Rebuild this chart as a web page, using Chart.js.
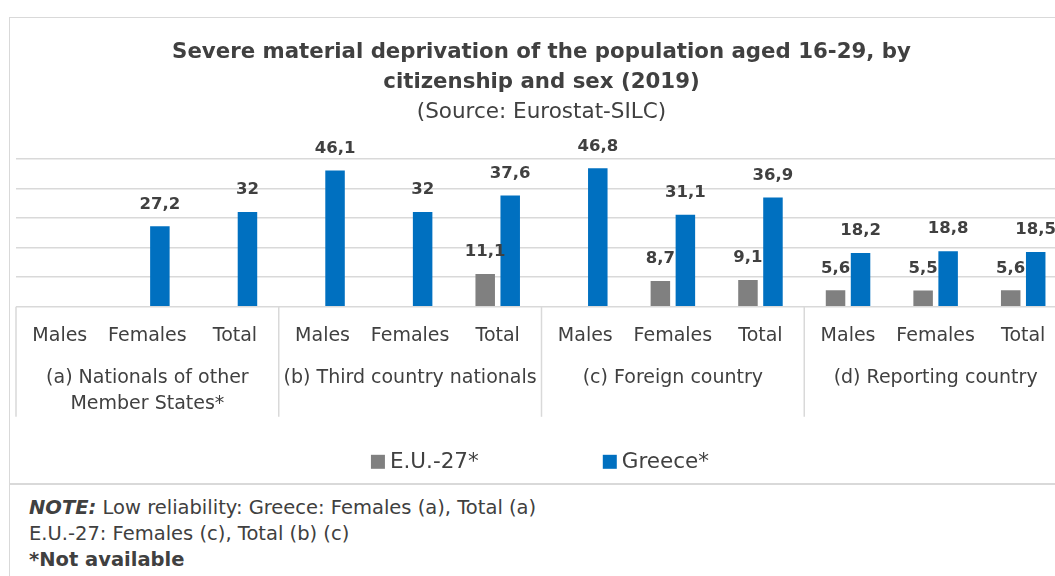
<!DOCTYPE html>
<html><head><meta charset="utf-8">
<script src="https://cdn.jsdelivr.net/npm/chart.js@4"></script>
<style>
html,body{margin:0;padding:0;background:#fff;overflow:hidden;width:1055px;height:576px;font-family:'DejaVu Sans',sans-serif;}
#box{position:absolute;left:9px;top:17px;width:1120px;height:468px;border:1.5px solid #D9D9D9;box-sizing:border-box;}
#notesBox{position:absolute;left:9px;top:483px;width:1120px;height:200px;border:1.5px solid #D9D9D9;box-sizing:border-box;}
#cv{position:absolute;left:10px;top:18px;}
#notes{position:absolute;left:29px;top:495px;font-size:19.5px;line-height:26px;color:#404040;white-space:nowrap;}
</style></head>
<body>
<div id="box"></div>
<div id="notesBox"></div>
<canvas id="cv" width="1060" height="466" style="width:1060px;height:466px"></canvas>
<div id="notes"><b><i>NOTE:</i></b> Low reliability: Greece: Females (a), Total (a)<br>E.U.-27: Females (c), Total (b) (c)<br><b>*Not available</b></div>
<script>
const categories = ['Males','Females','Total','Males','Females','Total','Males','Females','Total','Males','Females','Total'];
const groupLabels = [['(a) Nationals of other','Member States*'],['(b) Third country nationals'],['(c) Foreign country'],['(d) Reporting country']];
const euValues = [null, null, null, null, null, 11.1, null, 8.7, 9.1, 5.6, 5.5, 5.6];
const greeceValues = [null, 27.2, 32, 46.1, 32, 37.6, 46.8, 31.1, 36.9, 18.2, 18.8, 18.5];
const seriesNames = ['E.U.-27*', 'Greece*'];
const yMin = 0, yMax = 50, yStep = 10;

const TEXT = '#404040';
const FONT = "'DejaVu Sans', sans-serif";
Chart.defaults.font.family = FONT;
Chart.defaults.color = TEXT;

const fmt = v => String(v).replace('.', ',');

const dataLabels = {
  id: 'dataLabels',
  afterDatasetsDraw(chart) {
    const ctx = chart.ctx;
    ctx.save();
    ctx.font = 'bold 16.5px ' + FONT;
    ctx.fillStyle = TEXT;
    ctx.textAlign = 'center';
    ctx.textBaseline = 'middle';
    chart.data.datasets.forEach((ds, di) => {
      const meta = chart.getDatasetMeta(di);
      meta.data.forEach((el, i) => {
        const v = ds.data[i];
        if (v === null || v === undefined) return;
        ctx.fillText(fmt(v), el.x, el.y - 22);
      });
    });
    ctx.restore();
  }
};

const groupAxis = {
  id: 'groupAxis',
  afterDraw(chart) {
    const ctx = chart.ctx;
    const x = chart.scales.x;
    const bottom = chart.chartArea.bottom;
    const cw = x.getPixelForValue(1) - x.getPixelForValue(0);
    ctx.save();
    ctx.strokeStyle = '#D9D9D9';
    ctx.lineWidth = 1.5;
    ctx.font = '19px ' + FONT;
    ctx.fillStyle = TEXT;
    ctx.textAlign = 'center';
    ctx.textBaseline = 'middle';
    groupLabels.forEach((lines, g) => {
      const left = x.getPixelForValue(g * 3) - cw / 2;
      const right = x.getPixelForValue(g * 3 + 2) + cw / 2;
      ctx.beginPath();
      ctx.moveTo(left, bottom);
      ctx.lineTo(left, bottom + 110);
      ctx.stroke();
      const cx = (left + right) / 2;
      lines.forEach((t, li) => ctx.fillText(t, cx, bottom + 71 + li * 26));
    });
    // legend
    ctx.font = '21.5px ' + FONT;
    const box = 14, gap = 5, spacing = 124;
    const items = chart.data.datasets.map(d => ({label: d.label, color: d.backgroundColor, w: ctx.measureText(d.label).width}));
    let total = items.reduce((s, it) => s + box + gap + it.w, 0) + spacing * (items.length - 1);
    let lx = chart.width / 2 - total / 2;
    const ly = bottom + 155;
    ctx.textAlign = 'left';
    items.forEach(it => {
      ctx.fillStyle = it.color;
      ctx.fillRect(lx, ly - box / 2, box, box);
      ctx.fillStyle = TEXT;
      ctx.fillText(it.label, lx + box + gap, ly + 1);
      lx += box + gap + it.w + spacing;
    });
    ctx.restore();
  }
};

new Chart(document.getElementById('cv'), {
  type: 'bar',
  data: {
    labels: categories,
    datasets: [
      {label: seriesNames[0], data: euValues, backgroundColor: '#808080'},
      {label: seriesNames[1], data: greeceValues, backgroundColor: '#0070C0'}
    ]
  },
  options: {
    responsive: false,
    animation: false,
    barPercentage: 0.78,
    categoryPercentage: 0.571,
    layout: {padding: {left: 6, right: 3, top: 0, bottom: 118.4}},
    plugins: {
      legend: {display: false},
      tooltip: {enabled: false},
      title: {
        display: true,
        text: ['Severe material deprivation of the population aged 16-29, by', 'citizenship and sex (2019)'],
        font: {size: 21.3, weight: 'bold', lineHeight: 1.41},
        color: TEXT,
        padding: {top: 19, bottom: 0}
      },
      subtitle: {
        display: true,
        text: '(Source: Eurostat-SILC)',
        font: {size: 21.5, lineHeight: 1.2},
        color: TEXT,
        padding: {top: 2, bottom: 34}
      }
    },
    scales: {
      x: {
        grid: {display: false, drawTicks: false},
        border: {display: false},
        ticks: {font: {size: 19}, color: TEXT, padding: 18, autoSkip: false, maxRotation: 0}
      },
      y: {
        min: yMin, max: yMax,
        grid: {color: '#D9D9D9', lineWidth: 1.5, drawTicks: false},
        border: {display: false},
        ticks: {display: false, stepSize: yStep}
      }
    }
  },
  plugins: [dataLabels, groupAxis]
});
</script>
</body></html>
